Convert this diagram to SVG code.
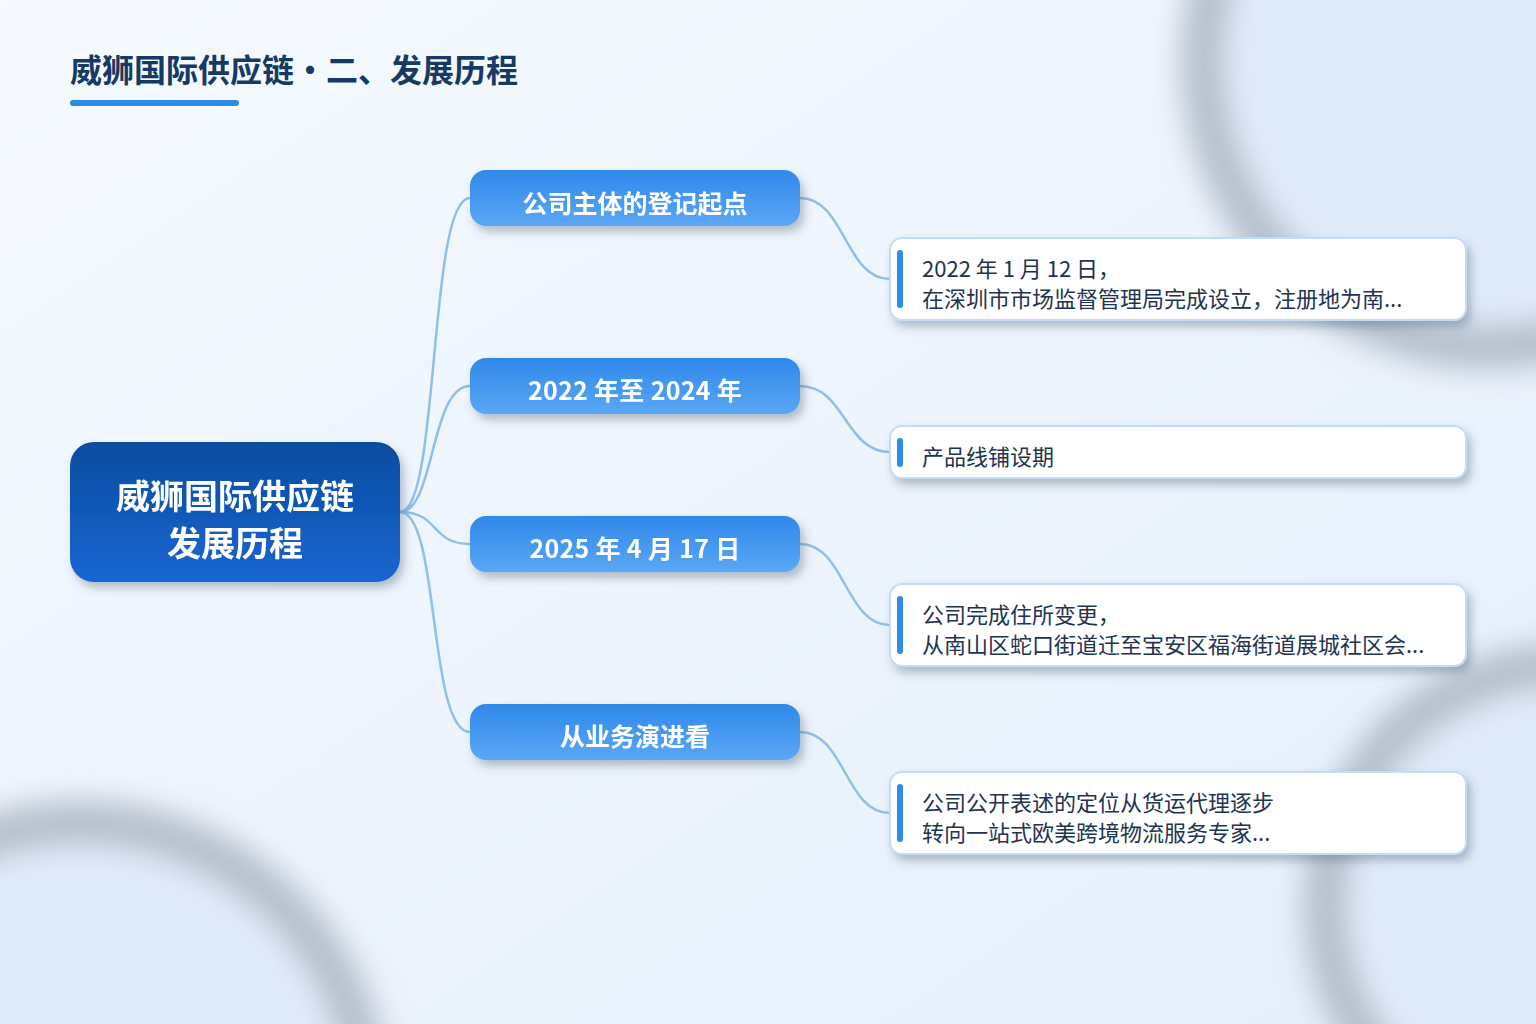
<svg xmlns="http://www.w3.org/2000/svg" width="1536" height="1024" viewBox="0 0 1536 1024">
<defs>
<linearGradient id="bg" x1="0" y1="0" x2="1" y2="1">
<stop offset="0" stop-color="#f6faff"/>
<stop offset="1" stop-color="#e4eefb"/>
</linearGradient>
<linearGradient id="rootG" x1="0" y1="0" x2="0" y2="1">
<stop offset="0" stop-color="#0c4ca0"/>
<stop offset="1" stop-color="#1666d2"/>
</linearGradient>
<linearGradient id="brG" x1="0" y1="0" x2="0" y2="1">
<stop offset="0" stop-color="#2f88ea"/>
<stop offset="1" stop-color="#5ba7f5"/>
</linearGradient>
<filter id="ringBlur" x="-30%" y="-30%" width="160%" height="160%">
<feGaussianBlur stdDeviation="15"/>
</filter>
<filter id="sh" x="-10%" y="-20%" width="125%" height="150%">
<feDropShadow dx="4" dy="6" stdDeviation="5" flood-color="#3d4d63" flood-opacity="0.35"/>
</filter>
<style>
.title{font-family:"Noto Sans CJK SC","Noto Sans",sans-serif;font-weight:700;font-size:32px;fill:#173a64}
.rootT{font-family:"Noto Sans CJK SC","Noto Sans",sans-serif;font-weight:700;font-size:34px;fill:#ffffff}
.brT{font-family:"Noto Sans CJK SC","Noto Sans",sans-serif;font-weight:700;font-size:25px;fill:#ffffff}
.lfT{font-family:"Noto Sans CJK SC","Noto Sans",sans-serif;font-size:22px;fill:#1e3350}
.card{fill:#ffffff;stroke:#c4ddf5;stroke-width:2}
.bar{fill:#2f8ae8}
.conn{fill:none;stroke:#8fbfea;stroke-width:2.5;stroke-linecap:round}
.ring{fill:#e0ebfa}
.ringS{fill:none;stroke:#b3bdca;stroke-width:42;filter:url(#ringBlur)}
</style>
</defs>
<rect width="1536" height="1024" fill="url(#bg)"/>
<g id="decor">
<circle class="ring" cx="1490" cy="60" r="288"/>
<circle class="ringS" cx="1490" cy="60" r="288"/>
<circle class="ring" cx="80" cy="1112" r="290"/>
<circle class="ringS" cx="80" cy="1112" r="290"/>
<circle class="ring" cx="1565" cy="905" r="240"/>
<circle class="ringS" cx="1565" cy="905" r="240"/>
</g>
<g id="title">
<text class="title" x="70" y="82">威狮国际供应链・二、发展历程</text>
<rect x="70" y="100" width="169" height="6" rx="3" fill="#2b8be8"/>
</g>
<g id="connectors">
<path class="conn" d="M400 512 C440 512 428 198 470 198"/>
<path class="conn" d="M400 512 C435 512 430 386 470 386"/>
<path class="conn" d="M400 512 C440 512 430 544 470 544"/>
<path class="conn" d="M400 512 C440 512 428 732 470 732"/>
<path class="conn" d="M800 198 C845 198 845 279 890 279"/>
<path class="conn" d="M800 386 C845 386 845 452 890 452"/>
<path class="conn" d="M800 544 C845 544 845 625 890 625"/>
<path class="conn" d="M800 732 C845 732 845 813 890 813"/>
</g>
<g id="root" filter="url(#sh)">
<rect x="70" y="442" width="330" height="140" rx="24" fill="url(#rootG)"/>
<text class="rootT" x="235" y="509" text-anchor="middle">威狮国际供应链</text>
<text class="rootT" x="235" y="556" text-anchor="middle">发展历程</text>
</g>
<g id="b1" filter="url(#sh)">
<rect x="470" y="170" width="330" height="56" rx="16" fill="url(#brG)"/>
<text class="brT" x="635" y="213" text-anchor="middle">公司主体的登记起点</text>
</g>
<g id="b2" filter="url(#sh)">
<rect x="470" y="358" width="330" height="56" rx="16" fill="url(#brG)"/>
<text class="brT" x="635" y="400" text-anchor="middle" letter-spacing="0.3">2022 年至 2024 年</text>
</g>
<g id="b3" filter="url(#sh)">
<rect x="470" y="516" width="330" height="56" rx="16" fill="url(#brG)"/>
<text class="brT" x="635" y="558" text-anchor="middle" letter-spacing="0.3">2025 年 4 月 17 日</text>
</g>
<g id="b4" filter="url(#sh)">
<rect x="470" y="704" width="330" height="56" rx="16" fill="url(#brG)"/>
<text class="brT" x="635" y="746" text-anchor="middle">从业务演进看</text>
</g>
<g id="l1">
<rect class="card" x="890" y="238" width="576" height="82" rx="12" filter="url(#sh)"/>
<rect class="bar" x="897" y="250" width="6" height="58" rx="3"/>
<text class="lfT" x="922" y="277">2022 年 1 月 12 日，</text>
<text class="lfT" x="922" y="307">在深圳市市场监督管理局完成设立，注册地为南...</text>
</g>
<g id="l2">
<rect class="card" x="890" y="426" width="576" height="52" rx="12" filter="url(#sh)"/>
<rect class="bar" x="897" y="438" width="6" height="29" rx="3"/>
<text class="lfT" x="922" y="465">产品线铺设期</text>
</g>
<g id="l3">
<rect class="card" x="890" y="584" width="576" height="82" rx="12" filter="url(#sh)"/>
<rect class="bar" x="897" y="596" width="6" height="58" rx="3"/>
<text class="lfT" x="922" y="623">公司完成住所变更，</text>
<text class="lfT" x="922" y="653">从南山区蛇口街道迁至宝安区福海街道展城社区会...</text>
</g>
<g id="l4">
<rect class="card" x="890" y="772" width="576" height="82" rx="12" filter="url(#sh)"/>
<rect class="bar" x="897" y="784" width="6" height="58" rx="3"/>
<text class="lfT" x="922" y="811">公司公开表述的定位从货运代理逐步</text>
<text class="lfT" x="922" y="841">转向一站式欧美跨境物流服务专家...</text>
</g>
</svg>
